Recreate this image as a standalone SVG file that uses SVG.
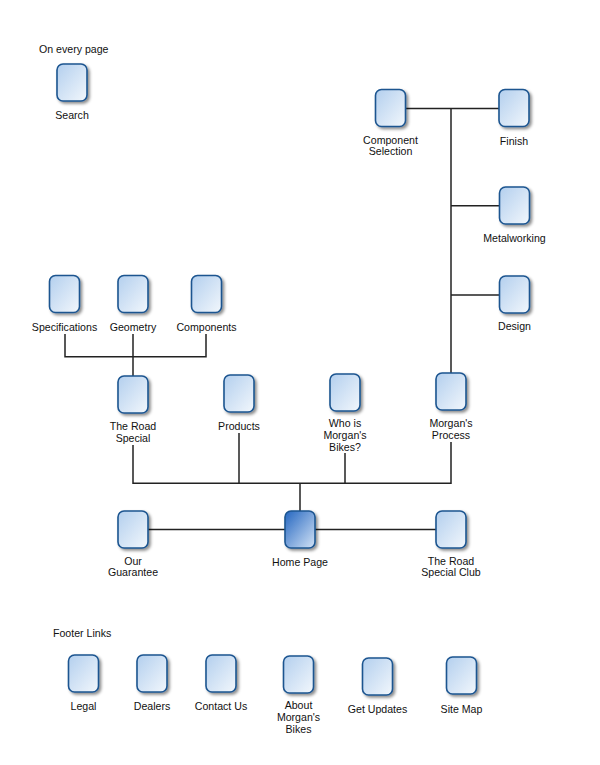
<svg xmlns="http://www.w3.org/2000/svg" width="600" height="765" viewBox="0 0 600 765">
<defs>
<linearGradient id="g" x1="0" y1="0" x2="1" y2="1">
<stop offset="0" stop-color="#b3cfee"/>
<stop offset="1" stop-color="#f2f7fc"/>
</linearGradient>
<linearGradient id="gh" x1="0" y1="0" x2="1" y2="1">
<stop offset="0" stop-color="#2466c0"/>
<stop offset="1" stop-color="#d3e3f6"/>
</linearGradient>
<filter id="sh" x="-30%" y="-30%" width="160%" height="160%">
<feDropShadow dx="2" dy="2" stdDeviation="1.4" flood-color="#000" flood-opacity="0.45"/>
</filter>
</defs>
<style>
rect.n{fill:url(#g);stroke:#1d5590;stroke-width:1.6;filter:url(#sh)}
rect.h{fill:url(#gh);stroke:#1d5590;stroke-width:1.6;filter:url(#sh)}
text{font-family:"Liberation Sans",Arial,sans-serif;font-size:10.6px;fill:#111}
text.c{text-anchor:middle}
#connectors path{fill:none;stroke:#222;stroke-width:1.5}
</style>
<rect width="600" height="765" fill="#fff"/>

<g id="connectors">
<path d="M406 108.5H499"/>
<path d="M451 108.5V373"/>
<path d="M451 205.7H499.5"/>
<path d="M451 295H499.5"/>
<path d="M65 334V356.7H206V334"/>
<path d="M133 334V376"/>
<path d="M133 445V483.3H451V442"/>
<path d="M239 433V483.3"/>
<path d="M345 453V483.3"/>
<path d="M300 483.3V511"/>
<path d="M148 529.5H285"/>
<path d="M315 529.5H436"/>
</g>

<text x="39" y="53">On every page</text>
<g id="search"><rect class="n" x="57" y="64" width="30" height="37" rx="6"/><text class="c" x="72" y="119">Search</text></g>

<g id="component-selection"><rect class="n" x="375.5" y="89.5" width="30" height="37" rx="6"/><text class="c" x="390.5" y="144">Component</text><text class="c" x="390.5" y="155">Selection</text></g>
<g id="finish"><rect class="n" x="499" y="89.5" width="30" height="37" rx="6"/><text class="c" x="514" y="145">Finish</text></g>
<g id="metalworking"><rect class="n" x="499.5" y="187" width="30" height="37" rx="6"/><text class="c" x="514.5" y="242">Metalworking</text></g>
<g id="design"><rect class="n" x="499.5" y="276" width="30" height="37" rx="6"/><text class="c" x="514.5" y="330">Design</text></g>

<g id="specifications"><rect class="n" x="49.5" y="275.5" width="30" height="37" rx="6"/><text class="c" x="64.5" y="331">Specifications</text></g>
<g id="geometry"><rect class="n" x="118" y="275.5" width="30" height="37" rx="6"/><text class="c" x="133" y="331">Geometry</text></g>
<g id="components"><rect class="n" x="191.5" y="275.5" width="30" height="37" rx="6"/><text class="c" x="206.5" y="331">Components</text></g>

<g id="the-road-special"><rect class="n" x="118" y="376" width="30" height="37" rx="6"/><text class="c" x="133" y="430">The Road</text><text class="c" x="133" y="441.5">Special</text></g>
<g id="products"><rect class="n" x="224" y="375" width="30" height="37" rx="6"/><text class="c" x="239" y="430">Products</text></g>
<g id="who-is"><rect class="n" x="330" y="374" width="30" height="37" rx="6"/><text class="c" x="345" y="427">Who is</text><text class="c" x="345" y="439">Morgan's</text><text class="c" x="345" y="451">Bikes?</text></g>
<g id="morgans-process"><rect class="n" x="436" y="373" width="30" height="37" rx="6"/><text class="c" x="451" y="427">Morgan's</text><text class="c" x="451" y="438.5">Process</text></g>

<g id="our-guarantee"><rect class="n" x="118" y="511" width="30" height="37" rx="6"/><text class="c" x="133" y="565">Our</text><text class="c" x="133" y="576">Guarantee</text></g>
<g id="home-page"><rect class="h" x="285" y="511" width="30" height="37" rx="6"/><text class="c" x="300" y="566">Home Page</text></g>
<g id="road-special-club"><rect class="n" x="436" y="511" width="30" height="37" rx="6"/><text class="c" x="451" y="565">The Road</text><text class="c" x="451" y="576">Special Club</text></g>

<text x="53" y="636.5">Footer Links</text>
<g id="legal"><rect class="n" x="68.5" y="655" width="30" height="37" rx="6"/><text class="c" x="83.5" y="710">Legal</text></g>
<g id="dealers"><rect class="n" x="137" y="655" width="30" height="37" rx="6"/><text class="c" x="152" y="710">Dealers</text></g>
<g id="contact-us"><rect class="n" x="206" y="655" width="30" height="37" rx="6"/><text class="c" x="221" y="710">Contact Us</text></g>
<g id="about"><rect class="n" x="283.5" y="656" width="30" height="37" rx="6"/><text class="c" x="298.5" y="709">About</text><text class="c" x="298.5" y="721">Morgan's</text><text class="c" x="298.5" y="733">Bikes</text></g>
<g id="get-updates"><rect class="n" x="362.5" y="658" width="30" height="37" rx="6"/><text class="c" x="377.5" y="713">Get Updates</text></g>
<g id="site-map"><rect class="n" x="446.5" y="657" width="30" height="37" rx="6"/><text class="c" x="461.5" y="713">Site Map</text></g>
</svg>
